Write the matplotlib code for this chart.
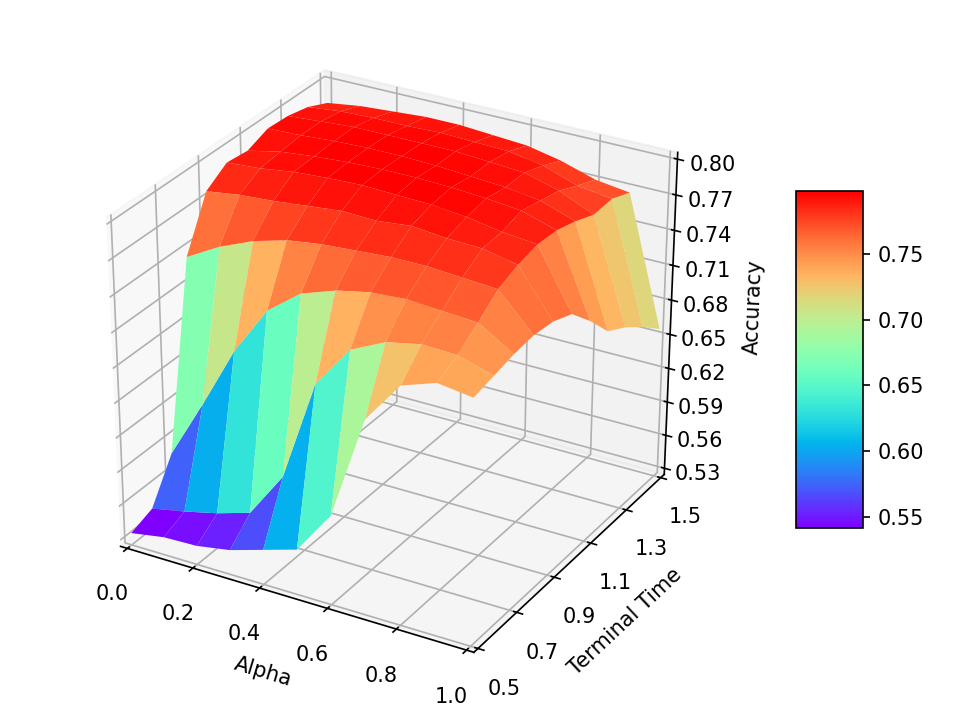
import numpy as np
import matplotlib
matplotlib.use("Agg")
import matplotlib.pyplot as plt
from matplotlib import cm
from matplotlib.ticker import FixedLocator, FormatStrFormatter

alpha = [0.0, 0.1, 0.2, 0.3, 0.4, 0.5, 0.6, 0.7, 0.8, 0.9, 1.0]
terminal_time = [0.5, 0.6, 0.7, 0.8, 0.9, 1.0, 1.1, 1.2, 1.3, 1.4, 1.5]

# one row per terminal time, one column per alpha
accuracy = [
    [0.535, 0.540, 0.541, 0.546, 0.555, 0.564, 0.602, 0.692, 0.728, 0.738, 0.734],
    [0.542, 0.548, 0.555, 0.564, 0.604, 0.692, 0.728, 0.742, 0.748, 0.747, 0.738],
    [0.577, 0.628, 0.682, 0.724, 0.746, 0.756, 0.762, 0.764, 0.762, 0.760, 0.742],
    [0.734, 0.750, 0.762, 0.770, 0.774, 0.776, 0.778, 0.778, 0.776, 0.774, 0.744],
    [0.777, 0.781, 0.783, 0.786, 0.789, 0.788, 0.791, 0.788, 0.787, 0.781, 0.742],
    [0.789, 0.791, 0.795, 0.797, 0.798, 0.797, 0.796, 0.793, 0.788, 0.785, 0.735],
    [0.787, 0.793, 0.796, 0.798, 0.799, 0.799, 0.798, 0.796, 0.793, 0.784, 0.716],
    [0.794, 0.795, 0.797, 0.798, 0.798, 0.797, 0.795, 0.793, 0.789, 0.779, 0.694],
    [0.793, 0.795, 0.797, 0.797, 0.797, 0.797, 0.795, 0.793, 0.785, 0.772, 0.684],
    [0.789, 0.792, 0.793, 0.793, 0.794, 0.793, 0.792, 0.787, 0.777, 0.773, 0.671],
    [0.781, 0.785, 0.787, 0.789, 0.789, 0.787, 0.785, 0.779, 0.770, 0.766, 0.656],
]
z_ticks = [0.53, 0.56, 0.59, 0.62, 0.65, 0.68, 0.71, 0.74, 0.77, 0.80]
x_ticks = [0.0, 0.2, 0.4, 0.6, 0.8, 1.0]
y_ticks = [0.5, 0.7, 0.9, 1.1, 1.3, 1.5]

fig = plt.figure(figsize=(6.4, 4.8), dpi=150)
ax = fig.add_subplot(projection="3d")
# keep the cube stretched to the full panel instead of forcing it square
ax.apply_aspect = lambda position=None: None
ax.set_position([0.0095, 0.0167, 0.786, 0.965])
ax.set_box_aspect((1, 1, 1), zoom=0.9088)
ax.set_xlim(0, 1, view_margin=1 / 48)
ax.set_ylim(0.5, 1.5, view_margin=1 / 48)
ax.set_zlim(0.53, 0.80, view_margin=1 / 48)

X, Y = np.meshgrid(alpha, terminal_time)
surf = ax.plot_surface(X, Y, np.array(accuracy), cmap=cm.rainbow, linewidth=0,
                       rstride=1, cstride=1)

ax.xaxis.set_major_locator(FixedLocator(x_ticks))
ax.yaxis.set_major_locator(FixedLocator(y_ticks))
ax.zaxis.set_major_locator(FixedLocator(z_ticks))
ax.zaxis.set_major_formatter(FormatStrFormatter("%.02f"))
ax.tick_params(axis="x", pad=5)
ax.tick_params(axis="y", pad=5)
ax.set_xlabel("Alpha", labelpad=5.5)
ax.set_ylabel("Terminal Time", labelpad=6)
ax.set_zlabel("Accuracy", labelpad=7)

cax = fig.add_axes([796 / 960, 192 / 720, 67 / 960, 337 / 720])
fig.colorbar(surf, cax=cax)

fig.savefig("out.png", dpi=150)
